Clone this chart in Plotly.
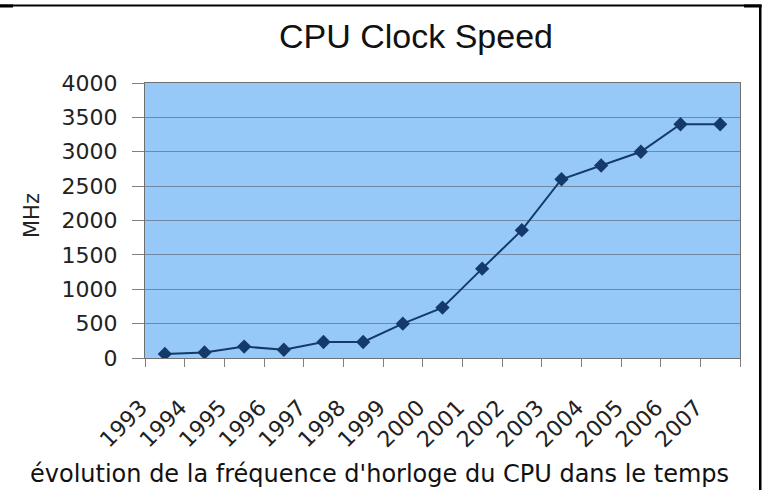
import plotly.graph_objects as go

years = ["1993", "1994", "1995", "1996", "1997", "1998", "1999", "2000",
         "2001", "2002", "2003", "2004", "2005", "2006", "2007"]
mhz = [60, 80, 166, 120, 233, 233, 500, 733, 1300, 1860, 2600, 2800, 3000, 3400, 3400]
y_ticks = [0, 500, 1000, 1500, 2000, 2500, 3000, 3500, 4000]

title_text = "CPU Clock Speed"
y_title = "MHz"
caption = "évolution de la fréquence d'horloge du CPU dans le temps"

W, H = 766, 490
L, R, T, B = 145, 740, 83, 358

def px(x):
    return (x - L) / (R - L)

def py(y):
    return (B - y) / (B - T)

fig = go.Figure()
fig.add_trace(go.Scatter(
    x=years, y=mhz, mode="lines+markers",
    line=dict(color="#143a6a", width=2),
    marker=dict(symbol="diamond", size=11, color="#143a6a"),
    showlegend=False,
))

fig.update_layout(
    width=W, height=H,
    margin=dict(l=L, r=W - R, t=T, b=H - B),
    paper_bgcolor="white",
    plot_bgcolor="#97c9f8",
    font=dict(family="DejaVu Sans", color="#222222"),
    title=dict(text=title_text, x=416 / W, xref="container", xanchor="center",
               y=1 - 36 / H, yref="container", yanchor="middle",
               font=dict(family="Liberation Sans", size=34, color="#111111")),
    xaxis=dict(
        type="category", range=[-0.5, 14.5],
        tickson="boundaries", ticks="outside", ticklen=8, tickcolor="#808080",
        tickangle=-45, tickfont=dict(size=22, family="DejaVu Sans", color="#222222"),
        ticklabelstandoff=27, ticklabelshift=-24,
        showline=True, linecolor="#707070", mirror=True, linewidth=1,
        showgrid=False, zeroline=False,
    ),
    yaxis=dict(
        range=[0, 4000], tickvals=y_ticks, ticktext=[str(v) for v in y_ticks],
        ticks="outside", ticklen=12, tickcolor="#808080",
        tickfont=dict(size=22, family="DejaVu Sans", color="#222222"),
        ticklabelstandoff=10,
        showline=True, linecolor="#707070", mirror=True, linewidth=1,
        showgrid=True, gridcolor="#6f88a3", gridwidth=1, zeroline=False,
    ),
)

fig.add_annotation(text=y_title, textangle=-90, xref="paper", yref="paper",
                   x=px(32), y=py(216), xanchor="center", yanchor="middle",
                   showarrow=False, font=dict(size=21, family="DejaVu Sans", color="#222222"))
fig.add_annotation(text=caption, xref="paper", yref="paper",
                   x=px(379), y=py(474), xanchor="center", yanchor="middle",
                   showarrow=False, font=dict(size=24, family="DejaVu Sans", color="#111111"))

# outer frame lines (top and right)
fig.add_shape(type="line", xref="paper", yref="paper",
              x0=px(0), x1=px(761.5), y0=py(5.5), y1=py(5.5),
              line=dict(color="black", width=2))
fig.add_shape(type="line", xref="paper", yref="paper",
              x0=px(760.25), x1=px(760.25), y0=py(5), y1=py(492),
              line=dict(color="black", width=2.5))
fig.add_shape(type="line", xref="paper", yref="paper",
              x0=px(0), x1=px(13), y0=py(6), y1=py(6),
              line=dict(color="black", width=3))
fig.add_shape(type="line", xref="paper", yref="paper",
              x0=px(744), x1=px(761.5), y0=py(6), y1=py(6),
              line=dict(color="black", width=3))

fig.write_html("out.html", config={"displayModeBar": False},
               post_script="document.body.style.margin='0';document.body.style.overflow='hidden';")
